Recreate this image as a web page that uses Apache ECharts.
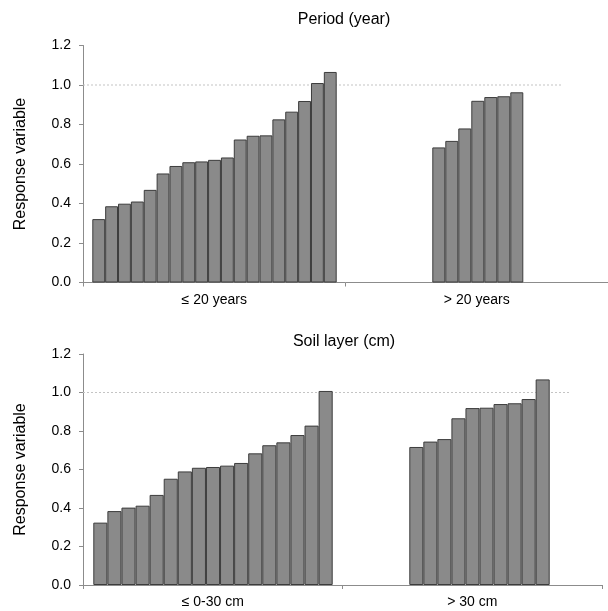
<!DOCTYPE html>
<html>
<head>
<meta charset="utf-8">
<script src="https://cdn.jsdelivr.net/npm/echarts@6/dist/echarts.min.js"></script>
<style>
html,body{margin:0;padding:0;background:#fff;}
#chart{width:608px;height:611px;}
</style>
</head>
<body>
<div id="chart"></div>
<script>
// ---- data ----
const periodCategories = ['≤ 20 years', '> 20 years'];
const periodShort = [0.321, 0.386, 0.399, 0.410, 0.469, 0.552, 0.590, 0.609, 0.613, 0.621, 0.633, 0.724, 0.743, 0.745, 0.826, 0.865, 0.919, 1.010, 1.066];
const periodLong = [0.684, 0.717, 0.780, 0.920, 0.939, 0.943, 0.963];
const soilCategories = ['≤ 0-30 cm', '> 30 cm'];
const soilShallow = [0.324, 0.384, 0.402, 0.412, 0.468, 0.552, 0.590, 0.609, 0.613, 0.620, 0.634, 0.684, 0.726, 0.741, 0.779, 0.828, 1.008];
const soilDeep = [0.717, 0.745, 0.758, 0.866, 0.919, 0.921, 0.940, 0.944, 0.966, 1.068];
const referenceLine = [1, 1];
const yMin = 0, yMax = 1.2, yStep = 0.2;
const panelTitles = ['Period (year)', 'Soil layer (cm)'];
const yAxisName = 'Response variable';

// ---- styling / layout ----
const FONT = 'Liberation Sans, Arial, Helvetica, sans-serif';
const AXIS_COLOR = '#8c8c8c';
const BAR_FILL = '#8a8a8a';
const BAR_BORDER = '#3c3c3c';

const panels = [
  { top: 45.5, height: 237, axisLeft: 83, axisWidth: 528, refWidth: 479,
    categories: periodCategories,
    groups: [ { left: 92.3, width: 244.4, values: periodShort },
              { left: 432.3, width: 91, values: periodLong } ],
    title: panelTitles[0], titleY: 20, labelMargin: 11 },
  { top: 354, height: 231, axisLeft: 83, axisWidth: 519, refWidth: 488,
    categories: soilCategories,
    groups: [ { left: 93.3, width: 239.4, values: soilShallow },
              { left: 409.3, width: 140.4, values: soilDeep } ],
    title: panelTitles[1], titleY: 342, labelMargin: 10 }
];

const grid = [], xAxis = [], yAxis = [], series = [], graphic = [];

panels.forEach(p => {
  // main axes grid
  const gi = grid.length;
  grid.push({ left: p.axisLeft, top: p.top, width: p.axisWidth, height: p.height });
  xAxis.push({
    gridIndex: gi, type: 'category', data: p.categories, boundaryGap: true,
    axisLine: { lineStyle: { color: AXIS_COLOR, width: 1 } },
    axisTick: { show: true, length: 4, lineStyle: { color: AXIS_COLOR } },
    axisLabel: { color: '#000', fontFamily: FONT, fontSize: 14, margin: p.labelMargin },
    splitLine: { show: false }
  });
  yAxis.push({
    gridIndex: gi, type: 'value', min: yMin, max: yMax, interval: yStep,
    name: yAxisName, nameLocation: 'middle', nameGap: 54, nameRotate: 90,
    nameTextStyle: { color: '#000', fontFamily: FONT, fontSize: 16 },
    axisLine: { show: true, lineStyle: { color: AXIS_COLOR, width: 1 } },
    axisTick: { show: true, length: 4, lineStyle: { color: AXIS_COLOR } },
    axisLabel: { color: '#000', fontFamily: FONT, fontSize: 14, margin: 12,
                 formatter: v => v.toFixed(1) },
    splitLine: { show: false }
  });

  // reference line grid
  const ri = grid.length;
  grid.push({ left: p.axisLeft, top: p.top, width: p.refWidth, height: p.height });
  xAxis.push({ gridIndex: ri, type: 'category', data: ['a', 'b'], boundaryGap: false, show: false });
  yAxis.push({ gridIndex: ri, type: 'value', min: yMin, max: yMax, show: false });
  series.push({
    type: 'line', xAxisIndex: ri, yAxisIndex: ri, data: referenceLine,
    symbol: 'none', silent: true, z: 1,
    lineStyle: { color: '#c4c4c4', width: 1, type: [2, 2] }
  });

  // bar groups
  p.groups.forEach(g => {
    const bi = grid.length;
    grid.push({ left: g.left, top: p.top, width: g.width, height: p.height });
    xAxis.push({ gridIndex: bi, type: 'category', data: g.values.map((_, i) => String(i + 1)), show: false });
    yAxis.push({ gridIndex: bi, type: 'value', min: yMin, max: yMax, show: false });
    series.push({
      type: 'bar', xAxisIndex: bi, yAxisIndex: bi, data: g.values,
      barCategoryGap: '0%', z: 3, silent: true,
      itemStyle: { color: BAR_FILL, borderColor: BAR_BORDER, borderWidth: 1 }
    });
  });

  graphic.push({
    type: 'text', x: 344, y: p.titleY,
    style: { text: p.title, fill: '#000', font: '16px ' + FONT,
             textAlign: 'center', textVerticalAlign: 'middle' }
  });
});

const chart = echarts.init(document.getElementById('chart'), null, { renderer: 'canvas' });
chart.setOption({
  animation: false,
  backgroundColor: '#fff',
  grid, xAxis, yAxis, series, graphic
});
</script>
</body>
</html>
